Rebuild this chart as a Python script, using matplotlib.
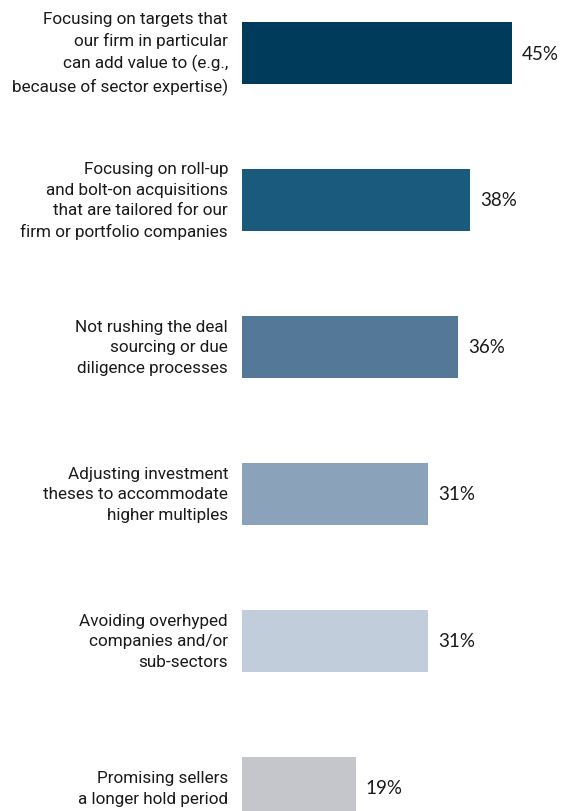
import matplotlib.pyplot as plt

# datos del grafico
labels = [
    "Focusing on targets that\nour firm in particular\ncan add value to (e.g.,\nbecause of sector expertise)",
    "Focusing on roll-up\nand bolt-on acquisitions\nthat are tailored for our\nfirm or portfolio companies",
    "Not rushing the deal\nsourcing or due\ndiligence processes",
    "Adjusting investment\ntheses to accommodate\nhigher multiples",
    "Avoiding overhyped\ncompanies and/or\nsub-sectors",
    "Promising sellers\na longer hold period",
]
values = [45, 38, 36, 31, 31, 19]
colors = ["#003b5c", "#1a5a7c", "#547998", "#8aa3bb", "#c1cddb", "#c4c6cb"]

fig = plt.figure(figsize=(5.63, 8.12), dpi=100)
ax = fig.add_axes([242 / 563, 0, 321 / 563, 1])

pos = list(range(len(values)))
ax.barh(pos, values, height=62 / 147, color=colors)
ax.set_xlim(0, 321 / 6)
ax.set_ylim((812 - 54) / 147, -54 / 147)
ax.axis("off")

for i, (lab, v) in enumerate(zip(labels, values)):
    ax.annotate(lab, xy=(0, i), xytext=(-10, 0), textcoords="offset points",
                ha="right", va="center", fontsize=12.3, family="Roboto",
                color="#1a1a1a", linespacing=1.45, annotation_clip=False)
    ax.annotate(f"{v}%", xy=(v, i), xytext=(7, 0), textcoords="offset points",
                ha="left", va="center", fontsize=13.5, family="Lato",
                color="#1a1a1a", annotation_clip=False)

fig.savefig("out.png", dpi=100)
